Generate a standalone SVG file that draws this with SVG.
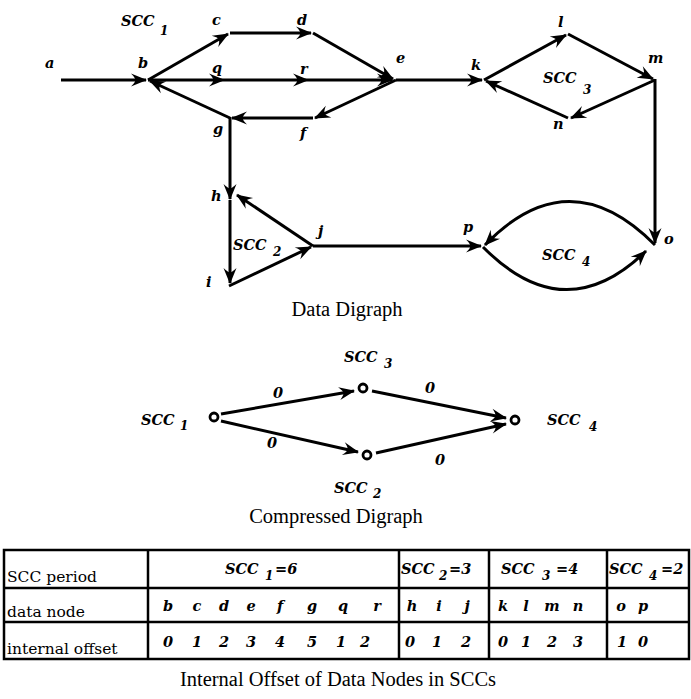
<svg xmlns="http://www.w3.org/2000/svg" width="691" height="699" viewBox="0 0 691 699">
<defs>
<marker id="ah" markerUnits="userSpaceOnUse" markerWidth="22" markerHeight="16" viewBox="-18 -8 22 16" refX="-1" refY="0" orient="auto">
<path d="M0,0 L-16,-6.5 Q-11,-1.5 -12,0 Q-11,1.5 -16,6.5 Z" fill="#000"/>
</marker>
</defs>
<style>
.e{fill:none;stroke:#000;stroke-width:3;marker-end:url(#ah)}
.l{font-family:"DejaVu Serif",serif;font-style:italic;font-weight:bold;font-size:14.5px;fill:#000}
.s{font-family:"DejaVu Serif",serif;font-style:italic;font-weight:bold;font-size:12px;fill:#000}
.t{font-family:"Liberation Serif",serif;font-size:20.5px;fill:#000;text-anchor:middle}
.r{font-family:"DejaVu Serif",serif;font-size:15.5px;fill:#000}
.c{fill:#fff;stroke:#000;stroke-width:2.8}
.tb{fill:none;stroke:#000;stroke-width:2.5}
.m{text-anchor:middle}
</style>
<rect width="691" height="699" fill="#fff"/>
<g id="connectors">
<path class="e" d="M61,80 L146,80"/>
<path class="e" d="M148,80 L228,34"/>
<path class="e" d="M230,33 L311,33"/>
<path class="e" d="M313,33 L393,79"/>
<path class="e" d="M148,80 L224,80"/>
<path class="e" d="M224,80 L308,80"/>
<path class="e" d="M308,80 L392,80"/>
<path class="e" d="M396,80 L315,118"/>
<path class="e" d="M313,118 L232,118"/>
<path class="e" d="M230,118 L150,81"/>
<path class="e" d="M230,117 L230,199"/>
<path class="e" d="M230,200 L230,283"/>
<path class="e" d="M229,286 L311,247"/>
<path class="e" d="M313,246 L237,195"/>
<path class="e" d="M313,246 L481,246"/>
<path class="e" d="M396,80 L482,80"/>
<path class="e" d="M484,80 L566,35"/>
<path class="e" d="M568,34 L653,79"/>
<path class="e" d="M655,80 L571,118"/>
<path class="e" d="M568,118 L486,81"/>
<path class="e" d="M655,79 L655,243"/>
<path class="e" d="M655,245 Q569,158 485,245"/>
<path class="e" d="M483,247 Q565,330 646,251"/>
<path class="e" d="M221,414 L354,391"/>
<path class="e" d="M221,421 L358,452"/>
<path class="e" d="M372,391 L506,418"/>
<path class="e" d="M376,453 L506,424"/>
</g>
<g id="node-a"><text class="l" x="45" y="68">a</text></g>
<g id="node-b"><text class="l" x="138" y="68">b</text></g>
<g id="node-c"><text class="l" x="212" y="25">c</text></g>
<g id="node-d"><text class="l" x="297" y="25">d</text></g>
<g id="node-e"><text class="l" x="396" y="63">e</text></g>
<g id="node-f"><text class="l" x="300" y="138">f</text></g>
<g id="node-g"><text class="l" x="213" y="134">g</text></g>
<g id="node-q"><text class="l" x="212" y="73">q</text></g>
<g id="node-r"><text class="l" x="300" y="74">r</text></g>
<g id="node-k"><text class="l" x="471" y="70">k</text></g>
<g id="node-l"><text class="l" x="558" y="27">l</text></g>
<g id="node-m"><text class="l" x="648" y="63">m</text></g>
<g id="node-n"><text class="l" x="553" y="129">n</text></g>
<g id="node-h"><text class="l" x="211" y="201">h</text></g>
<g id="node-i"><text class="l" x="206" y="287">i</text></g>
<g id="node-j"><text class="l" x="318" y="236">j</text></g>
<g id="node-p"><text class="l" x="463" y="232">p</text></g>
<g id="node-o"><text class="l" x="664" y="244">o</text></g>
<g id="label-scc1"><text class="l" x="121" y="26">SCC</text><text class="s" x="160" y="35">1</text></g>
<g id="label-scc3"><text class="l" x="543" y="83">SCC</text><text class="s" x="583" y="94">3</text></g>
<g id="label-scc2"><text class="l" x="233" y="250">SCC</text><text class="s" x="273" y="256">2</text></g>
<g id="label-scc4"><text class="l" x="542" y="260">SCC</text><text class="s" x="582" y="266">4</text></g>
<text class="t" x="347" y="316">Data Digraph</text>
<g id="c-scc1"><circle class="c" cx="214" cy="417" r="4"/><text class="l" x="141" y="425">SCC</text><text class="s" x="180" y="430">1</text></g>
<g id="c-scc3"><circle class="c" cx="363" cy="388" r="4"/><text class="l" x="344" y="362">SCC</text><text class="s" x="384" y="368">3</text></g>
<g id="c-scc2"><circle class="c" cx="367" cy="455" r="4"/><text class="l" x="334" y="493">SCC</text><text class="s" x="373" y="498">2</text></g>
<g id="c-scc4"><circle class="c" cx="515" cy="420" r="4"/><text class="l" x="547" y="425">SCC</text><text class="s" x="589" y="431">4</text></g>
<g id="edge-labels">
<text class="l m" x="278" y="398">0</text>
<text class="l m" x="272" y="448">0</text>
<text class="l m" x="430" y="393">0</text>
<text class="l m" x="440" y="465">0</text>
</g>
<text class="t" x="336" y="523">Compressed Digraph</text>
<g id="table">
<rect class="tb" x="4" y="550" width="685" height="109"/>
<line class="tb" x1="4" y1="588" x2="689" y2="588"/>
<line class="tb" x1="4" y1="622" x2="689" y2="622"/>
<line class="tb" x1="148" y1="550" x2="148" y2="659"/>
<line class="tb" x1="399" y1="550" x2="399" y2="659"/>
<line class="tb" x1="489" y1="550" x2="489" y2="659"/>
<line class="tb" x1="607" y1="550" x2="607" y2="659"/>
<text class="r" x="7" y="582">SCC period</text>
<text class="r" x="7" y="617">data node</text>
<text class="r" x="7" y="654">internal offset</text>
<text class="l" x="225" y="574">SCC</text><text class="s" x="265" y="580">1</text><text class="l" x="275" y="574">=6</text>
<text class="l" x="401" y="574">SCC</text><text class="s" x="439" y="580">2</text><text class="l" x="449" y="574">=3</text>
<text class="l" x="501" y="574">SCC</text><text class="s" x="542" y="580">3</text><text class="l" x="556" y="574">=4</text>
<text class="l" x="609" y="574">SCC</text><text class="s" x="649" y="580">4</text><text class="l" x="661" y="574">=2</text>
<text class="l m" x="168" y="611">b</text><text class="l m" x="197" y="611">c</text><text class="l m" x="224" y="611">d</text><text class="l m" x="251" y="611">e</text><text class="l m" x="280" y="611">f</text><text class="l m" x="312" y="611">g</text><text class="l m" x="343" y="611">q</text><text class="l m" x="377" y="611">r</text>
<text class="l m" x="412" y="611">h</text><text class="l m" x="439" y="611">i</text><text class="l m" x="467" y="611">j</text>
<text class="l m" x="503" y="611">k</text><text class="l m" x="526" y="611">l</text><text class="l m" x="552" y="611">m</text><text class="l m" x="578" y="611">n</text>
<text class="l m" x="621" y="611">o</text><text class="l m" x="643" y="611">p</text>
<text class="l m" x="168" y="647">0</text><text class="l m" x="197" y="647">1</text><text class="l m" x="224" y="647">2</text><text class="l m" x="251" y="647">3</text><text class="l m" x="280" y="647">4</text><text class="l m" x="312" y="647">5</text><text class="l m" x="341" y="647">1</text><text class="l m" x="365" y="647">2</text>
<text class="l m" x="410" y="647">0</text><text class="l m" x="437" y="647">1</text><text class="l m" x="466" y="647">2</text>
<text class="l m" x="503" y="647">0</text><text class="l m" x="526" y="647">1</text><text class="l m" x="552" y="647">2</text><text class="l m" x="578" y="647">3</text>
<text class="l m" x="622" y="647">1</text><text class="l m" x="643" y="647">0</text>
</g>
<text class="t" x="338" y="686">Internal Offset of Data Nodes in SCCs</text>
</svg>
